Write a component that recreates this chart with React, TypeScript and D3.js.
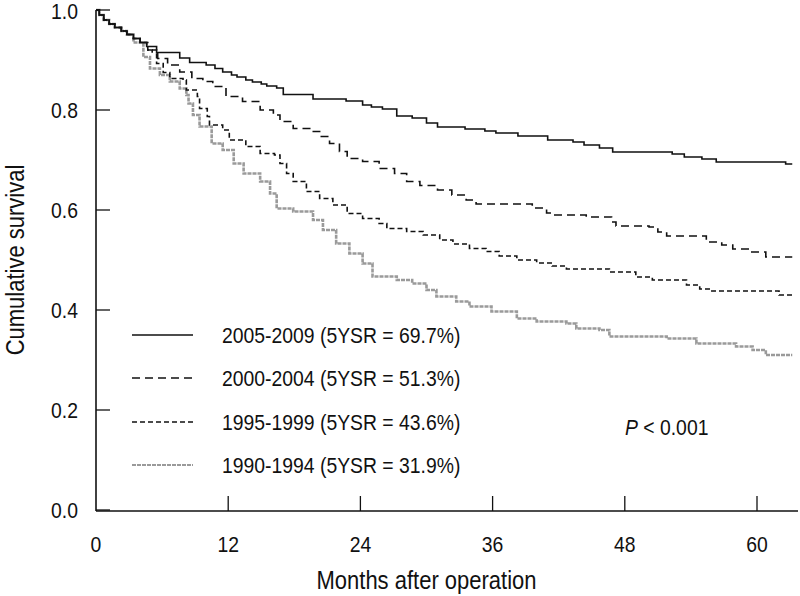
import React from "react";
import * as d3 from "d3";

// survival curves (months, cumulative survival)
const t2005 = [0, 0.3, 0.7, 1.2, 1.7, 2.3, 2.8, 3.4, 4.0, 4.6, 5.5, 7.6, 8.5, 10, 10.8, 11.5, 12.3, 12.8, 13.6, 14.2, 15, 15.5, 16.4, 17, 19.7, 22.7, 24.2, 25, 26, 27.3, 28.7, 30, 31, 33.5, 35.3, 36.3, 38.3, 41, 43.3, 44.3, 45.7, 46.9, 52.3, 53.4, 55, 56.3, 62.6, 63.2];
const s2005 = [1, 0.99, 0.98, 0.972, 0.965, 0.958, 0.951, 0.943, 0.935, 0.927, 0.915, 0.904, 0.895, 0.89, 0.883, 0.876, 0.87, 0.866, 0.86, 0.856, 0.852, 0.848, 0.844, 0.831, 0.822, 0.818, 0.81, 0.806, 0.802, 0.788, 0.784, 0.774, 0.766, 0.762, 0.758, 0.754, 0.748, 0.74, 0.736, 0.73, 0.724, 0.716, 0.712, 0.706, 0.702, 0.696, 0.692, 0.692];

const t2000 = [0, 0.3, 0.7, 1.2, 1.7, 2.3, 2.8, 3.4, 4.0, 4.6, 5.1, 5.6, 6.5, 7.6, 8.7, 9.7, 10.6, 11.8, 13.3, 14.9, 16.1, 16.7, 17.9, 19.4, 20.3, 21.2, 22.1, 22.8, 24.2, 25.7, 27.1, 28.2, 29.4, 31, 32.3, 33.6, 34.5, 39.6, 40.9, 41.4, 44.5, 46.8, 47.2, 50.2, 51, 51.8, 55.4, 56.8, 57.8, 59.3, 60.8, 63.2];
const s2000 = [1, 0.99, 0.98, 0.972, 0.965, 0.958, 0.951, 0.943, 0.935, 0.92, 0.913, 0.903, 0.89, 0.876, 0.863, 0.857, 0.847, 0.827, 0.817, 0.8, 0.79, 0.777, 0.763, 0.757, 0.747, 0.733, 0.717, 0.703, 0.697, 0.683, 0.673, 0.657, 0.649, 0.64, 0.63, 0.62, 0.612, 0.604, 0.594, 0.59, 0.586, 0.576, 0.568, 0.566, 0.556, 0.548, 0.536, 0.53, 0.522, 0.516, 0.506, 0.506];

const t1995 = [0, 0.3, 0.7, 1.2, 1.7, 2.3, 2.8, 3.4, 4.0, 4.7, 5.5, 6.1, 6.7, 7.9, 8.2, 9.2, 9.4, 10.1, 10.3, 11.5, 12.1, 13.6, 14.9, 16.2, 16.7, 17.3, 17.9, 19.1, 20.3, 21.5, 22.8, 24.2, 25.7, 26.4, 28.2, 29.7, 31.2, 32.4, 33.9, 35.4, 36.6, 38.2, 40, 41.4, 42.7, 46.6, 49, 50.5, 53.6, 54.8, 55.9, 62, 63.2];
const s1995 = [1, 0.99, 0.98, 0.972, 0.965, 0.958, 0.951, 0.943, 0.935, 0.92, 0.893, 0.875, 0.863, 0.86, 0.84, 0.827, 0.803, 0.787, 0.77, 0.76, 0.74, 0.727, 0.713, 0.71, 0.693, 0.673, 0.657, 0.637, 0.623, 0.61, 0.593, 0.583, 0.573, 0.563, 0.557, 0.55, 0.54, 0.532, 0.523, 0.517, 0.508, 0.5, 0.494, 0.488, 0.482, 0.476, 0.466, 0.46, 0.45, 0.442, 0.438, 0.43, 0.43];

const t1990 = [0, 0.3, 0.7, 1.2, 1.7, 2.3, 2.8, 3.4, 4.3, 4.9, 5.8, 6.7, 7.6, 8.2, 8.4, 8.8, 9.4, 10.5, 11.5, 12.5, 13.4, 14.9, 15.8, 16.4, 17.9, 19.7, 20.6, 21.8, 23, 24.2, 25.1, 27.3, 28.7, 30, 30.9, 32.7, 33.9, 35.9, 38.2, 40, 42.7, 43.6, 45.7, 46.6, 51.8, 54.5, 58.1, 59.6, 60.8, 63.2];
const s1990 = [1, 0.99, 0.98, 0.972, 0.965, 0.958, 0.951, 0.935, 0.906, 0.883, 0.87, 0.857, 0.843, 0.83, 0.813, 0.79, 0.767, 0.733, 0.72, 0.693, 0.673, 0.657, 0.633, 0.603, 0.597, 0.58, 0.56, 0.533, 0.513, 0.493, 0.467, 0.46, 0.453, 0.44, 0.427, 0.417, 0.407, 0.397, 0.383, 0.377, 0.373, 0.363, 0.36, 0.347, 0.343, 0.333, 0.327, 0.32, 0.31, 0.31];

const legendLabels = [
  "2005-2009 (5YSR = 69.7%)",
  "2000-2004 (5YSR = 51.3%)",
  "1995-1999 (5YSR = 43.6%)",
  "1990-1994 (5YSR = 31.9%)",
];
const xTicks = [0, 12, 24, 36, 48, 60];
const yTicks = [0, 0.2, 0.4, 0.6, 0.8, 1.0];

const FONT = "'Liberation Sans', Arial, sans-serif";
const SQUEEZE = 0.88; // the original uses a condensed face

// line look for each group
const styles = [
  { stroke: "#111", width: 1.6, dash: null },
  { stroke: "#111", width: 1.6, dash: "8,5" },
  { stroke: "#111", width: 1.6, dash: "5,3" },
  { stroke: "#9a9a9a", width: 2.6, dash: "4,1" },
];

// narrow text: squeeze glyphs horizontally around the anchor point
function NText({ x, y, size, anchor = "start", rotate = 0, children }: any) {
  return (
    <text transform={`translate(${x},${y}) rotate(${rotate}) scale(${SQUEEZE},1)`}
      dy="0.35em" textAnchor={anchor} fontSize={size} fill="#111">
      {children}
    </text>
  );
}

export default function App() {
  const width = 800, height = 596;
  const x = d3.scaleLinear().domain([0, 60]).range([96, 757]);
  const y = d3.scaleLinear().domain([0, 1]).range([510, 10]);

  const series = [
    d3.zip(t2005, s2005),
    d3.zip(t2000, s2000),
    d3.zip(t1995, s1995),
    d3.zip(t1990, s1990),
  ];

  const line = d3.line<number[]>()
    .x(d => x(d[0]))
    .y(d => y(d[1]))
    .curve(d3.curveStepAfter);

  const x0 = x(0), yBase = y(0);
  const xEnd = 798;
  const legendY = [335, 378, 422, 465];

  return (
    <svg width={width} height={height} style={{ position: "absolute", left: 0, top: 0, background: "#fff" }}
      fontFamily={FONT}>
      {/* curves: gray first so the black ones sit on top */}
      {[3, 2, 1, 0].map(i => (
        <path key={i} d={line(series[i]) || ""} fill="none"
          stroke={styles[i].stroke} strokeWidth={styles[i].width}
          strokeDasharray={styles[i].dash || undefined} />
      ))}

      {/* axes */}
      <line x1={x0} x2={x0} y1={y(1)} y2={yBase + 1} stroke="#111" strokeWidth={1.6} />
      <line x1={x0} x2={xEnd} y1={yBase + 1} y2={yBase + 1} stroke="#111" strokeWidth={1.6} />
      {yTicks.map(t => (
        <g key={t}>
          <line x1={x0} x2={x0 + 14} y1={y(t)} y2={y(t)} stroke="#111" strokeWidth={1.3} />
          <NText x={x0 - 18} y={t === 1 ? y(t) + 1 : y(t)} size={22} anchor="end">{t.toFixed(1)}</NText>
        </g>
      ))}
      {xTicks.map(t => (
        <g key={t}>
          {t > 0 && <line x1={x(t)} x2={x(t)} y1={yBase + 1} y2={yBase - 14} stroke="#111" strokeWidth={1.3} />}
          <NText x={x(t)} y={544} size={22} anchor="middle">{t}</NText>
        </g>
      ))}

      <NText x={x(30)} y={580} size={25} anchor="middle">Months after operation</NText>
      <NText x={15} y={y(0.5)} size={25} anchor="middle" rotate={-90}>Cumulative survival</NText>

      {/* legend */}
      {legendLabels.map((lab, i) => (
        <g key={lab}>
          <line x1={132} x2={193} y1={legendY[i]} y2={legendY[i]} stroke={styles[i].stroke}
            strokeWidth={i === 3 ? 2.2 : 1.4} strokeDasharray={styles[i].dash || undefined} />
          <NText x={222} y={legendY[i]} size={22}>{lab}</NText>
        </g>
      ))}

      <NText x={625} y={427} size={22}>
        <tspan fontStyle="italic">P</tspan> &lt; 0.001
      </NText>
    </svg>
  );
}
